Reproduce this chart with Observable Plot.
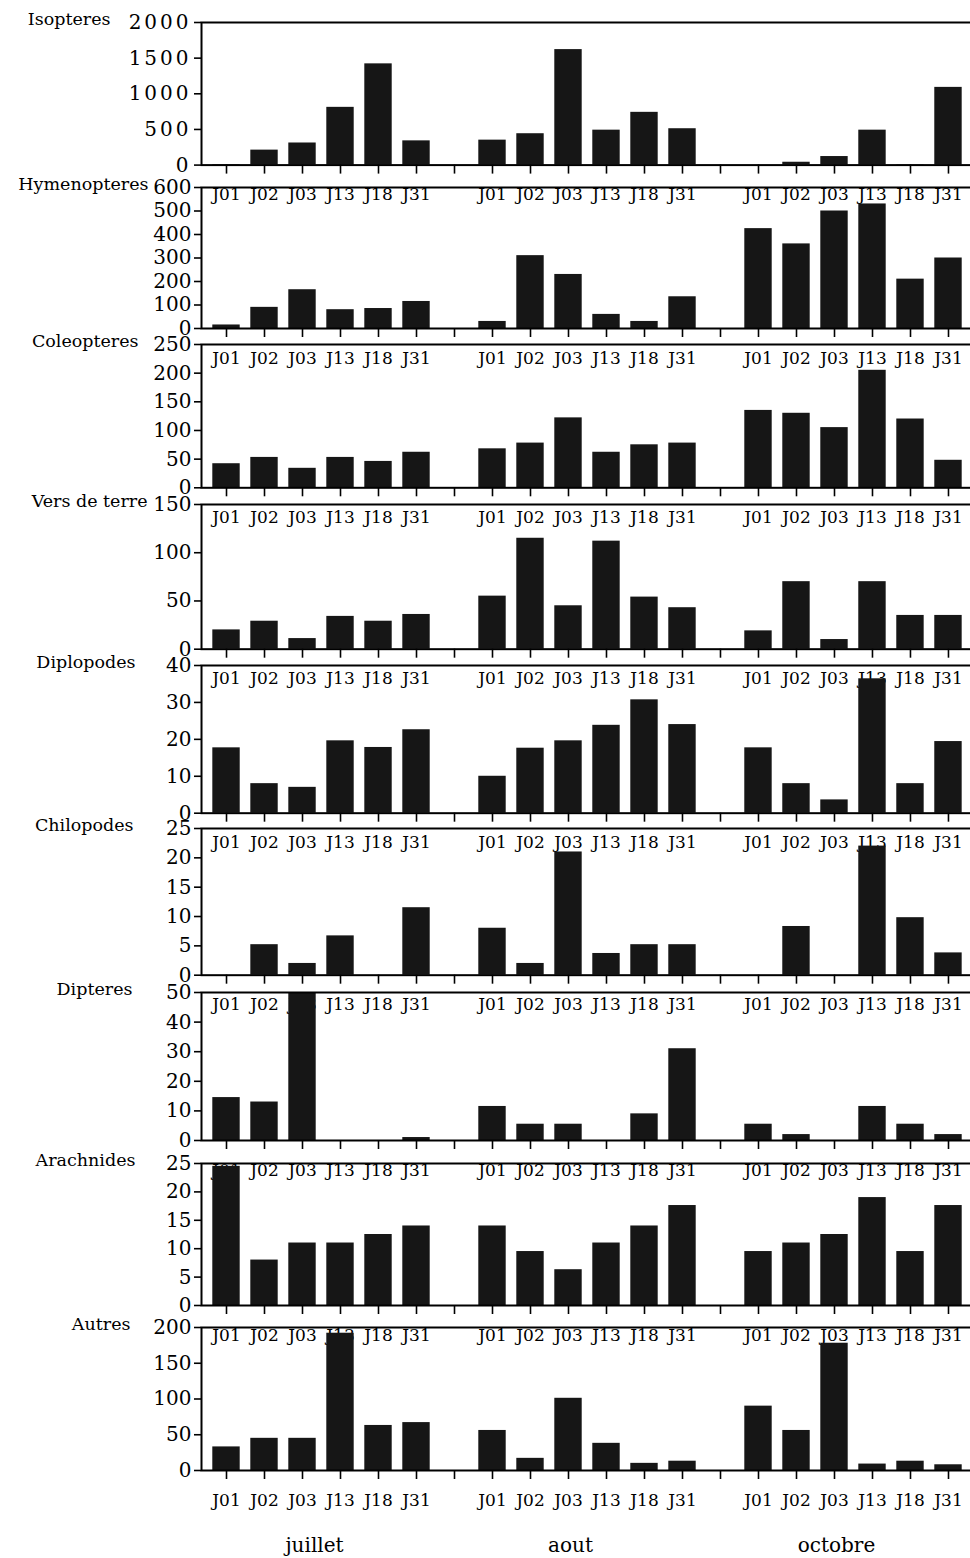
<!DOCTYPE html>
<html>
<head>
<meta charset="utf-8">
<script src="https://cdn.jsdelivr.net/npm/d3@7"></script>
<script src="https://cdn.jsdelivr.net/npm/@observablehq/plot@0.6"></script>
<style>
html, body { margin: 0; padding: 0; background: #fff; overflow: hidden; width: 970px; height: 1558px; }
#chart { position: relative; width: 970px; height: 1558px; overflow: hidden; }
#chart svg { position: absolute; left: 0; overflow: visible; background: transparent; }
</style>
</head>
<body>
<div id="chart"></div>
<script>
// ---- data ----
const months = ["juillet", "aout", "octobre"];
const sites = ["J01", "J02", "J03", "J13", "J18", "J31"];
const groupNames = ["Isopteres", "Hymenopteres", "Coleopteres", "Vers de terre", "Diplopodes", "Chilopodes", "Dipteres", "Arachnides", "Autres"];
// values ordered juillet J01..J31, aout J01..J31, octobre J01..J31
const isopteres    = [8, 210, 310, 810, 1420, 340,   350, 440, 1620, 490, 740, 510,   0, 40, 120, 490, 5, 1090];
const hymenopteres = [15, 90, 165, 80, 85, 115,      30, 310, 230, 60, 30, 135,       425, 360, 500, 530, 210, 300];
const coleopteres  = [42, 53, 34, 53, 46, 62,        68, 78, 122, 62, 75, 78,         135, 130, 105, 205, 120, 48];
const versDeTerre  = [20, 29, 11, 34, 29, 36,        55, 115, 45, 112, 54, 43,        19, 70, 10, 70, 35, 35];
const diplopodes   = [17.7, 8, 7, 19.6, 17.8, 22.6,  10, 17.6, 19.6, 23.8, 30.7, 24,  17.7, 8, 3.6, 36.4, 8, 19.4];
const chilopodes   = [0, 5.2, 2, 6.7, 0, 11.5,       8, 2, 21, 3.7, 5.2, 5.2,         0, 8.3, 0, 22, 9.8, 3.8];
const dipteres     = [14.5, 13, 50, 0, 0, 1,         11.5, 5.5, 5.5, 0, 9, 31,        5.5, 2, 0, 11.5, 5.5, 2];
const arachnides   = [24.5, 8, 11, 11, 12.5, 14,     14, 9.5, 6.3, 11, 14, 17.6,      9.5, 11, 12.5, 19, 9.5, 17.6];
const autres       = [33, 45, 45, 192, 63, 67,       56, 17, 101, 38, 10, 13,         90, 56, 178, 9, 13, 8];
const yMax  = [2000, 600, 250, 150, 40, 25, 50, 25, 200];
const yStep = [500, 100, 50, 50, 10, 5, 10, 5, 50];

const seriesList = [isopteres, hymenopteres, coleopteres, versDeTerre, diplopodes, chilopodes, dipteres, arachnides, autres];

// ---- layout ----
const frameTop   = [21.7, 186.7, 344, 504, 665, 828.3, 992, 1163, 1327];
const innerH     = [142.6, 141, 143.3, 144.7, 147.7, 146.7, 148, 142, 143];
const labelRight = [110, 148, 138, 147, 135, 133, 132, 135, 130];
const monthDx    = [12, 2, 2];
const mTop = 12, mLeft = 201, W = 972;

// band slots: 6 sites per month with an empty slot between months
const slots = [];
months.forEach((m, i) => {
  sites.forEach(s => slots.push(m + "|" + s));
  if (i < months.length - 1) slots.push("gap" + i);
});
const tickFmt = d => d.startsWith("gap") ? "" : d.split("|")[1];

const chart = document.getElementById("chart");
const FONT = "'DejaVu Serif', 'Liberation Serif', serif";

seriesList.forEach((vals, p) => {
  const rows = [];
  months.forEach((m, i) => sites.forEach((s, j) => rows.push({slot: m + "|" + s, value: vals[i * 6 + j]})));
  const isLast = p === seriesList.length - 1;
  const mBottom = isLast ? 95 : 45;
  const marks = [
    Plot.barY(rows, {x: "slot", y: "value", fill: "#161616", insetLeft: 5.3, insetRight: 5.3}),
    Plot.frame({stroke: "#000", strokeWidth: 2}),
    Plot.axisX({ticks: slots, label: null, tickSize: 9, tickPadding: 14, tickFormat: tickFmt, fontSize: 17, strokeWidth: 1.6, fill: "#000", fontFamily: FONT}),
    Plot.axisY({ticks: d3.range(0, yMax[p] + yStep[p] / 2, yStep[p]), label: null, tickSize: 7, tickPadding: 3, tickFormat: d => String(d), fontSize: 20, strokeWidth: 1.6, fill: "#000", fontFamily: FONT}),
    Plot.text([groupNames[p]], {frameAnchor: "top-left", text: d => d, textAnchor: "end", lineAnchor: "middle", dx: labelRight[p] - mLeft, dy: -3, fontSize: 17.5, fill: "#000", fontFamily: FONT})
  ];
  if (isLast) {
    months.forEach((m, i) => {
      marks.push(Plot.text([m], {x: d => d + "|J03", text: d => d, frameAnchor: "bottom", lineAnchor: "middle", dy: 75, dx: monthDx[i], fontSize: 20, fill: "#000", fontFamily: FONT}));
    });
  }
  const svg = Plot.plot({
    width: W,
    height: mTop + innerH[p] + mBottom,
    marginLeft: mLeft, marginRight: 0, marginTop: mTop, marginBottom: mBottom,
    style: {background: "transparent", overflow: "visible", maxWidth: "none", fontFamily: FONT, color: "#000"},
    x: {type: "band", domain: slots, padding: 0, axis: null},
    y: {domain: [0, yMax[p]], axis: null},
    marks
  });
  svg.style.top = (frameTop[p] - mTop) + "px";
  if (p === 0) {
    d3.select(svg).selectAll('g[aria-label="y-axis tick label"] text').attr("letter-spacing", "3px");
  }
  chart.appendChild(svg);
});
</script>
</body>
</html>
